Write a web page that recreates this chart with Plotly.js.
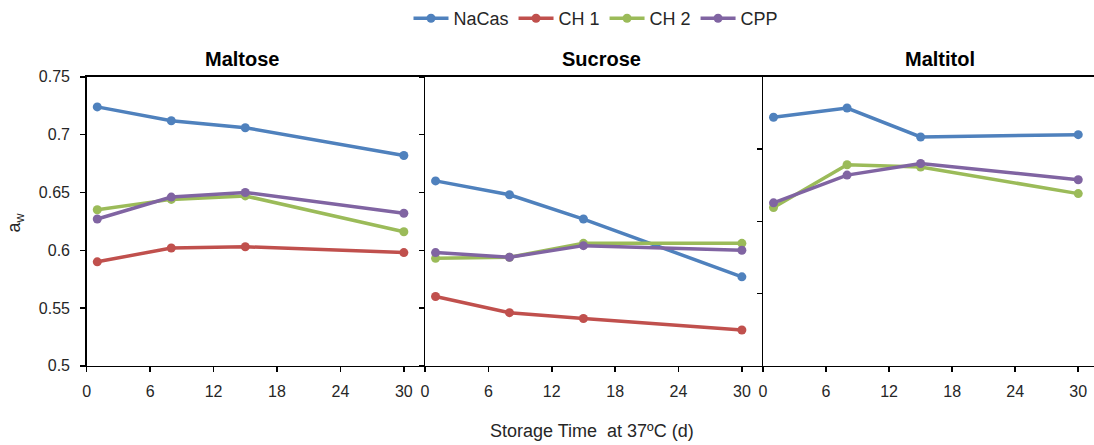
<!DOCTYPE html>
<html>
<head>
<meta charset="utf-8">
<script src="https://cdn.plot.ly/plotly-3.0.1.min.js"></script>
<style>html,body{margin:0;padding:0;background:#fff;}#chart{width:1094px;height:445px;}</style>
</head>
<body>
<div id="chart"></div>
<script>
// Storage time (days)
const days = [1, 8, 15, 30];
const panels = ["Maltose", "Sucrose", "Maltitol"];
const seriesNames = ["NaCas", "CH 1", "CH 2", "CPP"];
const seriesColors = ["#4F81BD", "#C0504D", "#9BBB59", "#8064A2"];

// water activity values per panel
const maltoseNaCas = [0.724, 0.712, 0.706, 0.682];
const maltoseCH1   = [0.590, 0.602, 0.603, 0.598];
const maltoseCH2   = [0.635, 0.644, 0.647, 0.616];
const maltoseCPP   = [0.627, 0.646, 0.650, 0.632];

const sucroseNaCas = [0.660, 0.648, 0.627, 0.577];
const sucroseCH1   = [0.560, 0.546, 0.541, 0.531];
const sucroseCH2   = [0.593, 0.594, 0.606, 0.606];
const sucroseCPP   = [0.598, 0.594, 0.604, 0.600];

const maltitolNaCas = [0.715, 0.723, 0.698, 0.700];
const maltitolCH1   = [null, null, null, null];
const maltitolCH2   = [0.637, 0.674, 0.672, 0.649];
const maltitolCPP   = [0.641, 0.665, 0.675, 0.661];

const xTicks = [0, 6, 12, 18, 24, 30];
const yTicks = [0.5, 0.55, 0.6, 0.65, 0.7, 0.75];
const yTicksPanel3 = [0.5625, 0.625, 0.6875];

const panelData = [
  [maltoseNaCas, maltoseCH1, maltoseCH2, maltoseCPP],
  [sucroseNaCas, sucroseCH1, sucroseCH2, sucroseCPP],
  [maltitolNaCas, maltitolCH1, maltitolCH2, maltitolCPP]
];

const W = 1094, H = 445;
const px = v => v / W;
const py = v => 1 - v / H;

const traces = [];
panelData.forEach((set, p) => {
  set.forEach((vals, s) => {
    traces.push({
      x: days, y: vals,
      type: 'scatter', mode: 'lines+markers',
      name: seriesNames[s],
      legendgroup: seriesNames[s],
      showlegend: p === 0,
      xaxis: p === 0 ? 'x' : 'x' + (p + 1),
      yaxis: p === 0 ? 'y' : 'y' + (p + 1),
      line: {color: seriesColors[s], width: 3.5},
      marker: {color: seriesColors[s], size: 9},
      connectgaps: false,
      hoverinfo: 'x+y'
    });
  });
});

const FONT = 'Liberation Sans, Arial, sans-serif';
const tickFont = {family: FONT, size: 16, color: '#262626'};
const yDom = [py(365.7), py(76)];

function xAxis(domain, range, anchor) {
  return {
    domain: domain, range: range, anchor: anchor,
    tickvals: xTicks, ticktext: xTicks.map(String),
    ticks: 'outside', ticklen: 5, tickwidth: 1.5, tickcolor: '#000',
    showline: true, linecolor: '#000', linewidth: 1.5, mirror: true,
    showgrid: false, zeroline: false, tickfont: tickFont,
    ticklabelstandoff: 5, fixedrange: true
  };
}
function yAxis(anchor, vals, showLabels) {
  return {
    domain: yDom, range: [0.5, 0.75], anchor: anchor,
    tickvals: vals, ticktext: vals.map(String),
    showticklabels: showLabels,
    ticks: 'outside', ticklen: 5, tickwidth: 1.5, tickcolor: '#000',
    showline: true, linecolor: '#000', linewidth: 1.5, mirror: false,
    showgrid: false, zeroline: false, tickfont: tickFont,
    ticklabelstandoff: 7, fixedrange: true
  };
}

const titleFont = {family: FONT, size: 20, color: '#000'};
const labelFont = {family: FONT, size: 18, color: '#262626'};

const layout = {
  width: W, height: H,
  margin: {l: 0, r: 0, t: 0, b: 0},
  paper_bgcolor: '#fff', plot_bgcolor: '#fff',
  showlegend: true,
  legend: {
    orientation: 'h', x: px(596), xanchor: 'center', y: py(18), yanchor: 'middle',
    font: labelFont,
    itemwidth: 35, tracegroupgap: 0, bgcolor: 'rgba(0,0,0,0)'
  },
  xaxis: xAxis([px(86.7), px(425)], [0, 32], 'y'),
  xaxis2: xAxis([px(425), px(763)], [0, 32], 'y2'),
  xaxis3: xAxis([px(763), 1], [0, 31.5], 'y3'),
  yaxis: yAxis('x', yTicks, true),
  yaxis2: yAxis('x2', yTicks, false),
  yaxis3: yAxis('x3', yTicksPanel3, false),
  annotations: [
    {text: '<b>' + panels[0] + '</b>', xref: 'paper', yref: 'paper', x: px(241.5), y: py(58), xanchor: 'center', yanchor: 'middle', showarrow: false, font: titleFont},
    {text: '<b>' + panels[1] + '</b>', xref: 'paper', yref: 'paper', x: px(601.7), y: py(58), xanchor: 'center', yanchor: 'middle', showarrow: false, font: titleFont},
    {text: '<b>' + panels[2] + '</b>', xref: 'paper', yref: 'paper', x: px(939.7), y: py(58), xanchor: 'center', yanchor: 'middle', showarrow: false, font: titleFont},
    {text: 'Storage Time  at 37ºC (d)', xref: 'paper', yref: 'paper', x: px(592), y: py(431), xanchor: 'center', yanchor: 'middle', showarrow: false, font: labelFont},
    {text: 'a<sub>w</sub>', xref: 'paper', yref: 'paper', x: px(16), y: py(222), xanchor: 'center', yanchor: 'middle', textangle: -90, showarrow: false, font: labelFont}
  ]
};

Plotly.newPlot('chart', traces, layout, {displayModeBar: false, staticPlot: true});
</script>
</body>
</html>
